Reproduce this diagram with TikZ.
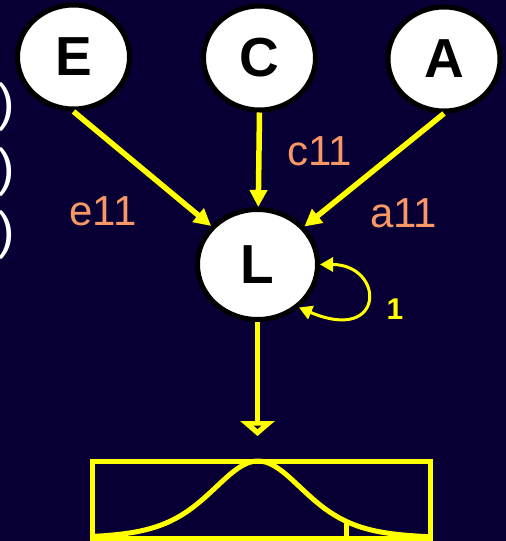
\documentclass[tikz,border=0pt]{standalone}
\usepackage{fontspec}
\setmainfont{Liberation Sans}
\usetikzlibrary{arrows.meta,shapes.geometric}
\definecolor{bgnavy}{RGB}{8,0,52}
\definecolor{salmon}{RGB}{247,152,102}
\definecolor{lineyellow}{RGB}{255,255,0}
\begin{document}
\begin{tikzpicture}[x=1pt,y=-1pt,
  factor/.style={ellipse,draw=black,fill=white,line width=5pt,inner sep=0pt,
    minimum width=112pt,minimum height=104pt,
    font=\fontsize{55}{60}\selectfont\bfseries},
  coeflabel/.style={text=salmon,inner sep=0pt,anchor=base,
    font=\fontsize{42}{48}\selectfont},
  paren/.style={text=white,inner sep=0pt,anchor=east,
    font=\fontsize{52}{60}\selectfont},
  link/.style={draw=lineyellow,line width=5.5pt,
    -{Triangle[length=17pt,width=17pt]}},
  selfloop/.style={draw=lineyellow,line width=3pt,
    {Triangle[length=13pt,width=14pt]}-{Triangle[length=13pt,width=14pt]}},
  yellowline/.style={draw=lineyellow,line width=5pt}
]
% background and page size
\fill[bgnavy] (0,0) rectangle (506,541);
\useasboundingbox (0,0) rectangle (506,541);

% closing brackets at the left edge
\node[paren] (p1) at (15,107) {)};
\node[paren] (p2) at (15,172) {)};
\node[paren] (p3) at (15,235) {)};

% latent factors
\node[factor] (E) at (73.5,57) {E};
\node[factor] (C) at (259.5,58) {C};
\node[factor] (A) at (444,59) {A};
\node[factor,minimum width=120pt,minimum height=110pt] (L) at (257.5,264.5) {L};

% paths into L
\draw[link] (E.south) -- (L);
\draw[link] (C.south) -- (L);
\draw[link] (A.south) -- (L);

% path coefficients
\node[coeflabel] (e11) at (103,225) {e11};
\node[coeflabel] (c11) at (319.5,165) {c11};
\node[coeflabel] (a11) at (403.5,227) {a11};

% variance of L
\draw[selfloop] (L.east) .. controls +(65,0) and +(87,37) .. (L.-46);
\node[text=lineyellow,inner sep=0pt,font=\fontsize{30}{34}\selectfont\bfseries] (one) at (395,309) {1};

% liability distribution
\node[draw=lineyellow,line width=5pt,minimum width=338pt,minimum height=77pt,inner sep=0pt] (box) at (261,499.5) {};
\coordinate (tipend) at (257.5,436);
\draw[link,-{Triangle[length=15pt,width=34pt]}] (L.south) -- (tipend);
\fill[bgnavy] (253.5,425.5) -- (261.5,425.5) -- (257.5,429) -- cycle;
\draw[yellowline] plot[domain=92:430,samples=120,smooth] (\x,{538-77/(cosh((\x-258)/63))^2});
\draw[yellowline] (346,521) -- (346,538);
\end{tikzpicture}
\end{document}
